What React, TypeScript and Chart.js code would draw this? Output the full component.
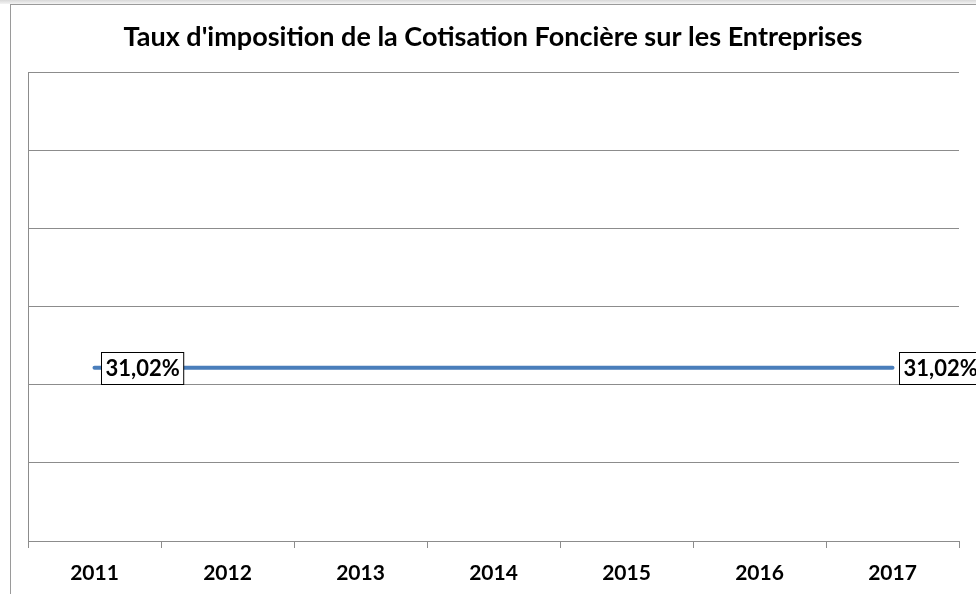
import { useEffect, useRef } from "react";
import { Chart, registerables } from "chart.js";

Chart.register(...registerables);

const chartTitle = "Taux d'imposition de la Cotisation Foncière sur les Entreprises";
const years = ["2011", "2012", "2013", "2014", "2015", "2016", "2017"];
const rates = [31.02, 31.02, 31.02, 31.02, 31.02, 31.02, 31.02];
const labeledIndices = [0, 6];
const yMin = 0;
const yMax = 84;
const yStep = 14;

const FONT = "Lato, 'Open Sans', 'DejaVu Sans', sans-serif";

const fmt = (v: number) => v.toFixed(2).replace(".", ",") + "%";

export default function App() {
  const ref = useRef<HTMLCanvasElement>(null);

  useEffect(() => {
    document.body.style.margin = "0";
    const canvas = ref.current;
    if (!canvas) return;

    const framePlugin = {
      id: "frame",
      beforeDraw(c: any) {
        const ctx = c.ctx;
        ctx.save();
        ctx.fillStyle = "#ffffff";
        ctx.fillRect(0, 0, c.width, c.height);
        const g = ctx.createLinearGradient(0, 0, 0, 4);
        g.addColorStop(0, "#d8d8d8");
        g.addColorStop(1, "#f4f4f4");
        ctx.fillStyle = g;
        ctx.fillRect(0, 0, c.width, 4);
        ctx.strokeStyle = "#9a9a9a";
        ctx.lineWidth = 1;
        ctx.strokeRect(10.5, 4.5, 3000, 3000);
        ctx.fillStyle = "#000";
        ctx.font = `bold 27px ${FONT}`;
        ctx.textAlign = "center";
        ctx.textBaseline = "alphabetic";
        ctx.fillText(chartTitle, 493, 46);
        ctx.restore();
      },
    };

    const labelPlugin = {
      id: "valueLabels",
      afterDatasetsDraw(c: any) {
        const ctx = c.ctx;
        const meta = c.getDatasetMeta(0);
        ctx.save();
        ctx.font = `bold 22px ${FONT}`;
        ctx.textAlign = "left";
        ctx.textBaseline = "middle";
        labeledIndices.forEach((i) => {
          const el = meta.data[i];
          if (!el) return;
          const text = fmt(rates[i]);
          const w = ctx.measureText(text).width + 8;
          const h = 32;
          const bx = Math.round(el.x + 6) + 0.5;
          const by = Math.round(el.y - h / 2) + 0.5;
          ctx.fillStyle = "#ffffff";
          ctx.fillRect(bx, by, w, h);
          ctx.strokeStyle = "#000";
          ctx.lineWidth = 1;
          ctx.strokeRect(bx, by, w, h);
          ctx.fillStyle = "#000";
          ctx.fillText(text, bx + 4, el.y + 1);
        });
        ctx.restore();
      },
    };

    const chart = new Chart(canvas, {
      type: "line",
      data: {
        labels: years,
        datasets: [
          {
            data: rates,
            borderColor: "#4a7ebb",
            borderWidth: 4,
            borderCapStyle: "round",
            pointRadius: 0,
            fill: false,
            tension: 0,
          },
        ],
      },
      options: {
        animation: false,
        responsive: true,
        maintainAspectRatio: false,
        layout: { padding: { left: 28, top: 72, right: 17, bottom: 0 } },
        plugins: {
          legend: { display: false },
          title: { display: false },
          tooltip: { enabled: false },
        },
        scales: {
          x: {
            offset: true,
            grid: {
              offset: true,
              drawOnChartArea: false,
              drawTicks: true,
              tickLength: 7,
              color: "#8c8c8c",
            },
            border: { display: true, color: "#8c8c8c", width: 1 },
            ticks: {
              color: "#000",
              font: { family: FONT, size: 21, weight: "bold" },
              padding: 13,
              maxRotation: 0,
            },
            afterFit(s: any) {
              s.height = 53;
            },
          },
          y: {
            min: yMin,
            max: yMax,
            ticks: { display: false, stepSize: yStep },
            grid: { color: "#8c8c8c", drawTicks: false, lineWidth: 1 },
            border: { display: true, color: "#8c8c8c", width: 1 },
            afterFit(s: any) {
              s.width = 0;
            },
          },
        },
      },
      plugins: [framePlugin, labelPlugin],
    });

    return () => chart.destroy();
  }, []);

  return (
    <div style={{ width: 976, height: 594, position: "relative" }}>
      <canvas ref={ref} />
    </div>
  );
}
